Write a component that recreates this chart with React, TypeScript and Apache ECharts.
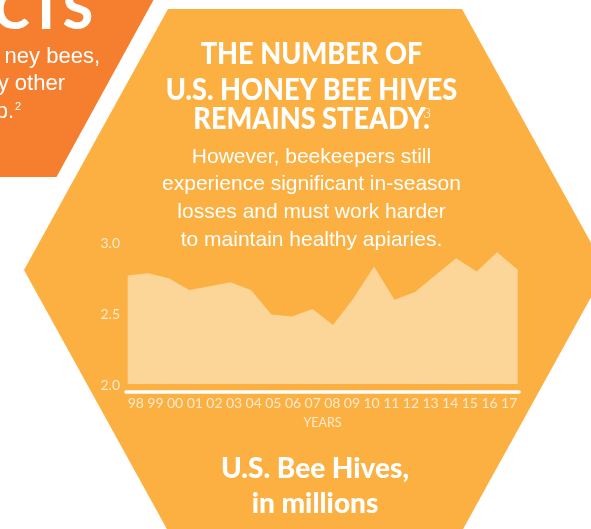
import React, { useEffect, useRef } from "react";
import * as echarts from "echarts";

const years = ["98", "99", "00", "01", "02", "03", "04", "05", "06", "07", "08", "09", "10", "11", "12", "13", "14", "15", "16", "17"];
const hives = [2.765, 2.782, 2.747, 2.664, 2.69, 2.718, 2.664, 2.49, 2.476, 2.53, 2.417, 2.606, 2.83, 2.594, 2.65, 2.77, 2.888, 2.794, 2.93, 2.806];
const yMin = 2.0;
const yMax = 3.0;
const yStep = 0.5;

const titleLines = ["THE NUMBER OF", "U.S. HONEY BEE HIVES", "REMAINS STEADY."];
const bodyLines = ["However, beekeepers still", "experience significant in-season", "losses and must work harder", "to maintain healthy apiaries."];
const footLines = ["U.S. Bee Hives,", "in millions"];
const leftLines = ["ney bees,", "y other", "p."];

const YELLOW = "#FBB041";
const ORANGE = "#F57F2E";
const AREA = "#FCD598";
const CREAM = "#FEEAD0";

export default function App() {
  const ref = useRef<HTMLDivElement>(null);
  useEffect(() => {
    if (!ref.current) return;
    const chart = echarts.init(ref.current, null, { renderer: "svg" });
    const txt = (text: string, x: number, y: number, size: number, weight: any, family: string, align: string, sx = 1, fill = "#ffffff") => ({
      type: "text",
      x,
      y,
      scaleX: sx,
      z: 5,
      silent: true,
      style: {
        text,
        fill,
        fontSize: size,
        fontWeight: weight,
        fontFamily: family,
        textAlign: align,
        textVerticalAlign: "middle",
      },
    });
    const titleY = [52.5, 88.3, 117];
    const graphics: any[] = [
      {
        type: "polygon",
        z: -10,
        silent: true,
        shape: { points: [[168, 9], [462, 9], [606, 270], [462, 531], [168, 531], [24, 270]] },
        style: { fill: YELLOW },
      },
      {
        type: "polygon",
        z: -10,
        silent: true,
        shape: { points: [[-10, -10], [159, -10], [56.5, 177], [-10, 177]] },
        style: { fill: ORANGE },
      },
      txt("FACTS", 93, 8, 55, 900, "Lato", "right", 1),
      txt(leftLines[0], 100, 55, 22, "normal", "Liberation Sans", "right"),
      txt(leftLines[1], 65, 82, 22, "normal", "Liberation Sans", "right"),
      txt(leftLines[2], 14, 110, 22, "normal", "Liberation Sans", "right"),
      txt("2", 15, 106, 11, "normal", "Liberation Sans", "left"),
      txt("3", 423, 112, 14, 300, "Lato", "left"),
    ];
    titleLines.forEach((t, i) => graphics.push(txt(t, 311.5, titleY[i], 30, 900, "Lato", "center", 0.905)));
    bodyLines.forEach((t, i) => graphics.push(txt(t, 311.5, 155 + i * 27.8, 21, "normal", "Liberation Sans", "center")));
    footLines.forEach((t, i) => graphics.push(txt(t, 315, 467 + i * 35, 28, 900, "Lato", "center", 1.0)));

    chart.setOption({
      animation: false,
      graphic: graphics,
      grid: [
        { left: 127.7, right: 73.3, top: 242.3, bottom: 145, containLabel: false },
        { left: 126, right: 72, top: 242.3, bottom: 137.7, containLabel: false },
      ],
      xAxis: [
        {
          gridIndex: 0,
          type: "category",
          data: years,
          boundaryGap: false,
          axisLine: { show: false },
          axisTick: { show: false },
          axisLabel: { show: false },
        },
        {
          gridIndex: 1,
          type: "category",
          data: years,
          boundaryGap: true,
          axisLine: { show: true, lineStyle: { color: "#ffffff", width: 3.5 } },
          axisTick: { show: false },
          axisLabel: { color: CREAM, fontSize: 14, fontFamily: "Lato", margin: 4.5, interval: 0 },
          name: "YEARS",
          nameLocation: "middle",
          nameGap: 24.5,
          nameTextStyle: { color: CREAM, fontSize: 12.5, fontFamily: "Lato" },
        },
      ],
      yAxis: [
        {
          gridIndex: 0,
          type: "value",
          min: yMin,
          max: yMax,
          interval: yStep,
          axisLine: { show: false },
          axisTick: { show: false },
          splitLine: { show: false },
          axisLabel: { color: CREAM, fontSize: 14, fontFamily: "Lato", margin: 7.7, formatter: (v: number) => v.toFixed(1) },
        },
        { gridIndex: 1, type: "value", min: 0, max: 1, show: false },
      ],
      series: [
        {
          type: "line",
          xAxisIndex: 0,
          yAxisIndex: 0,
          data: hives,
          symbol: "none",
          silent: true,
          lineStyle: { width: 0, color: AREA },
          areaStyle: { color: AREA, opacity: 1, origin: "start" },
        },
      ],
    });
    return () => chart.dispose();
  }, []);
  return <div ref={ref} style={{ position: "fixed", left: 0, top: 0, width: 591, height: 529 }} />;
}
